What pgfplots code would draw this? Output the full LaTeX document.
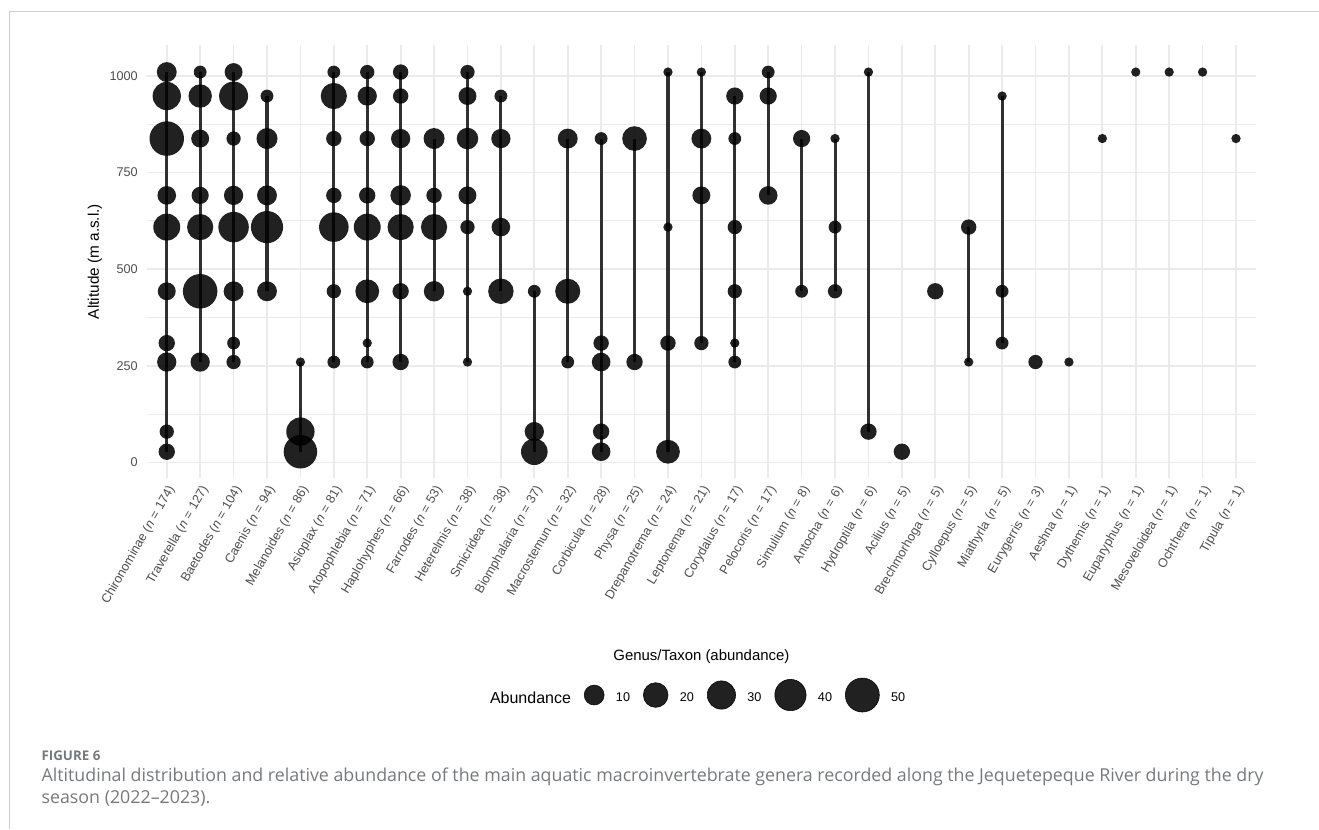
\documentclass[border=0pt]{standalone}
\usepackage{fontspec}
\setmainfont{Liberation Sans}
\newfontfamily\capfont{Open Sans}
\usepackage{pgfplots}
\pgfplotsset{compat=1.18}
\usepackage{pgfplotstable}
\definecolor{gridgray}{HTML}{EBEBEB}
\definecolor{ticktext}{HTML}{4D4D4D}
\definecolor{capgray}{HTML}{76797C}
\definecolor{framegray}{HTML}{D0D0D0}
\newcommand{\nn}[1]{(\textit{n} = #1)}

% x = taxon index, y = altitude (m a.s.l.), a = abundance
\pgfplotstableread{
x y a
0 1010 10
0 948 30
0 838 52
0 691 8
0 609 26
0 443 7
0 309 5
0 260 9
0 80 3
0 28 5
1 1010 2
1 948 17
1 838 7
1 691 6
1 609 24
1 443 52
1 260 9
2 1010 7
2 948 32
2 838 3
2 691 9
2 609 37
2 443 10
2 309 2
2 260 3
3 948 2
3 838 12
3 691 10
3 609 43
3 443 10
4 260 1
4 80 30
4 28 48
5 1010 2
5 948 24
5 838 4
5 691 4
5 609 34
5 443 3
5 260 2
6 1010 3
6 948 9
6 838 4
6 691 5
6 609 26
6 443 18
6 309 1
6 260 2
7 1010 4
7 948 4
7 838 9
7 691 11
7 609 24
7 443 5
7 260 5
8 838 12
8 691 4
8 609 24
8 443 11
9 1010 3
9 948 7
9 838 13
9 691 7
9 609 3
9 443 1
9 260 1
10 948 2
10 838 9
10 609 8
10 443 22
11 443 2
11 80 9
11 28 25
12 838 10
12 443 21
12 260 2
13 838 2
13 309 4
13 260 8
13 80 5
13 28 8
14 838 20
14 260 5
15 1010 1
15 609 1
15 309 4
15 28 18
16 1010 1
16 838 10
16 691 7
16 309 3
17 948 6
17 838 2
17 609 3
17 443 3
17 309 1
17 260 2
18 1010 2
18 948 6
18 691 8
19 838 6
19 443 2
20 838 1
20 609 2
20 443 3
21 1010 1
21 80 5
22 28 5
23 443 5
24 609 4
24 260 1
25 948 1
25 443 2
25 309 2
26 260 3
27 260 1
28 838 1
29 1010 1
30 1010 1
31 1010 1
32 838 1
}\pointdata

% altitudinal range of each taxon (min to max)
\pgfplotstableread{
x y
0 28
0 1010
nan nan
1 260
1 1010
nan nan
2 260
2 1010
nan nan
3 443
3 948
nan nan
4 28
4 260
nan nan
5 260
5 1010
nan nan
6 260
6 1010
nan nan
7 260
7 1010
nan nan
8 443
8 838
nan nan
9 260
9 1010
nan nan
10 443
10 948
nan nan
11 28
11 443
nan nan
12 260
12 838
nan nan
13 28
13 838
nan nan
14 260
14 838
nan nan
15 28
15 1010
nan nan
16 309
16 1010
nan nan
17 260
17 948
nan nan
18 691
18 1010
nan nan
19 443
19 838
nan nan
20 443
20 838
nan nan
21 80
21 1010
nan nan
24 260
24 609
nan nan
25 309
25 948
}\segdata

\begin{document}
\begin{tikzpicture}
\path[use as bounding box] (0pt,0pt) rectangle (989.25pt,-621.75pt);
\draw[framegray, line width=1.1pt] (6.98pt,-621.75pt) -- (6.98pt,-8.78pt) -- (989.25pt,-8.78pt);
\begin{axis}[
  at={(110.03pt,-358.5pt)}, anchor=south west,
  scale only axis, width=832pt, height=324.75pt,
  xmin=-0.6, xmax=32.6, ymin=-40, ymax=1080,
  axis line style={draw=none},
  major tick length=0pt, minor tick length=0pt,
  tick style={draw=none},
  xtick={0,...,32},
  xticklabels={
    {Chironominae \nn{174}},{Traverella \nn{127}},{Baetodes \nn{104}},{Caenis \nn{94}},
    {Melanoides \nn{86}},{Asioplax \nn{81}},{Atopophlebia \nn{71}},{Haplohyphes \nn{66}},
    {Farrodes \nn{53}},{Heterelmis \nn{38}},{Smicridea \nn{38}},{Biomphalaria \nn{37}},
    {Macrostemun \nn{32}},{Corbicula \nn{28}},{Physa \nn{25}},{Drepanotrema \nn{24}},
    {Leptonema \nn{21}},{Corydalus \nn{17}},{Pelocoris \nn{17}},{Simulium \nn{8}},
    {Antocha \nn{6}},{Hydroptila \nn{6}},{Acilius \nn{5}},{Brechmorhoga \nn{5}},
    {Cylloepus \nn{5}},{Miathyrla \nn{5}},{Eurygerris \nn{3}},{Aeshna \nn{1}},
    {Dythemis \nn{1}},{Euparyphus \nn{1}},{Mesoveloidea \nn{1}},{Ochthera \nn{1}},
    {Tipula \nn{1}}},
  ytick={0,250,500,750,1000},
  yticklabels={0,250,500,750,1000},
  minor ytick={125,375,625,875},
  grid=both,
  major grid style={gridgray, line width=1.3pt},
  minor grid style={gridgray, line width=0.8pt},
  xticklabel style={yshift=-4.5pt, rotate=60, anchor=north east, inner sep=0pt,
    font=\fontsize{9.5}{11}\selectfont, text=ticktext},
  yticklabel style={anchor=east, inner sep=0pt, xshift=-6.5pt,
    font=\fontsize{9.5}{11}\selectfont, text=ticktext},
  xlabel={Genus/Taxon (abundance)},
  xlabel style={at={(axis description cs:0.5,-0.4134)}, anchor=center, font=\fontsize{11.2}{13}\selectfont},
  ylabel={Altitude (m a.s.l.)},
  ylabel style={at={(axis description cs:-0.0466,0.5)}, anchor=center, font=\fontsize{11.5}{13}\selectfont},
  legend style={at={(axis description cs:0.299,-0.5012)}, anchor=west, draw=none, fill=none,
    inner sep=0pt, outer sep=0pt, legend columns=-1,
    nodes={inner sep=0pt, font=\fontsize{9.5}{11}\selectfont},
    /tikz/every odd column/.append style={column sep=8.7pt},
    /tikz/every even column/.append style={column sep=9.75pt}},
]
\addplot[no markers, draw=black, draw opacity=0.8, line width=2.3pt, unbounded coords=jump, forget plot]
  table[x=x, y=y] {\segdata};
\addplot[scatter, only marks, mark=*, point meta={\thisrow{a}},
  scatter/use mapped color={draw=black, draw opacity=0, fill=black, fill opacity=0.87},
  visualization depends on={\thisrow{a} \as \ab},
  scatter/@pre marker code/.append style={/tikz/mark size={0.375*(9.3+24.7*sqrt((\ab-1)/49))}},
  forget plot]
  table[x=x, y=y] {\pointdata};
\addlegendimage{empty legend}
\addlegendentry{\fontsize{12}{14}\selectfont Abundance\hspace{4pt}}
\addlegendimage{legend image code/.code={\fill[black, fill opacity=0.87] (7.46pt,0.5ex) circle (7.46pt);}}
\addlegendentry{10}
\addlegendimage{legend image code/.code={\fill[black, fill opacity=0.87] (9.26pt,0.5ex) circle (9.26pt);}}
\addlegendentry{20}
\addlegendimage{legend image code/.code={\fill[black, fill opacity=0.87] (10.61pt,0.5ex) circle (10.61pt);}}
\addlegendentry{30}
\addlegendimage{legend image code/.code={\fill[black, fill opacity=0.87] (11.75pt,0.5ex) circle (11.75pt);}}
\addlegendentry{40}
\addlegendimage{legend image code/.code={\fill[black, fill opacity=0.87] (12.75pt,0.5ex) circle (12.75pt);}}
\addlegendentry{50}
\end{axis}
\node[anchor=base west, inner sep=0pt, text=capgray, font=\capfont\fontsize{10}{12}\selectfont\bfseries] at (31pt,-570pt) {FIGURE 6};
\node[anchor=base west, inner sep=0pt, text=capgray, font=\capfont\fontsize{13.35}{15}\selectfont] at (31pt,-585.75pt) {Altitudinal distribution and relative abundance of the main aquatic macroinvertebrate genera recorded along the Jequetepeque River during the dry};
\node[anchor=base west, inner sep=0pt, text=capgray, font=\capfont\fontsize{13.35}{15}\selectfont] at (31pt,-602.25pt) {season (2022–2023).};
\end{tikzpicture}
\end{document}
